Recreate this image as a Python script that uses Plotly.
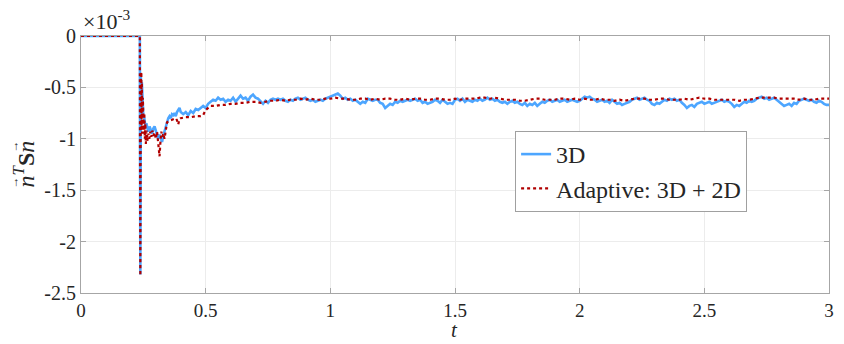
import numpy as np
import plotly.graph_objects as go

# values in units of 1e-3
blue_t_early = [0, 0.236, 0.237, 0.238, 0.239, 0.240, 0.242, 0.244, 0.246, 0.248, 0.250,
                0.254, 0.258, 0.262, 0.266, 0.270, 0.275, 0.280, 0.285, 0.290, 0.295,
                0.300, 0.305, 0.310, 0.315, 0.320, 0.325, 0.330, 0.335, 0.340, 0.345,
                0.350, 0.355, 0.360, 0.365, 0.370, 0.375, 0.380, 0.385, 0.390, 0.395,
                0.400, 0.410, 0.420, 0.430, 0.440, 0.450, 0.460, 0.470, 0.480, 0.490]
blue_v_early = [0, 0, -1.2, -2.32, -1.5, -0.40, -0.55, -0.45, -0.62, -0.70, -0.78,
                -0.80, -0.88, -0.85, -0.90, -0.93, -0.88, -0.92, -0.95, -0.90, -0.88,
                -0.92, -0.97, -1.00, -0.96, -0.99, -1.03, -0.97, -0.92, -0.88, -0.82,
                -0.80, -0.78, -0.80, -0.76, -0.77, -0.75, -0.78, -0.74, -0.72, -0.70,
                -0.74, -0.76, -0.74, -0.77, -0.73, -0.75, -0.71, -0.72, -0.70, -0.68]

red_t_early = [0, 0.236, 0.2365, 0.238, 0.239, 0.240, 0.241, 0.242, 0.243, 0.244, 0.245,
               0.246, 0.247, 0.248, 0.249, 0.250, 0.252, 0.254, 0.256, 0.258, 0.260,
               0.263, 0.266, 0.270, 0.274, 0.278, 0.282, 0.286, 0.290, 0.295, 0.300,
               0.305, 0.310, 0.315, 0.318, 0.322, 0.326, 0.330, 0.335, 0.340, 0.345,
               0.350, 0.360, 0.370, 0.380, 0.385, 0.390, 0.395, 0.400, 0.420, 0.440,
               0.460, 0.480, 0.490]
red_v_early = [0, 0, -1.0, -2.33, -1.2, -0.45, -0.75, -0.35, -0.90, -0.45, -0.95,
               -0.55, -0.85, -0.60, -0.95, -0.70, -0.95, -0.75, -1.00, -0.85, -1.05,
               -0.92, -1.02, -0.95, -1.00, -0.93, -0.98, -0.92, -0.97, -0.94, -1.00,
               -0.93, -1.05, -1.17, -1.05, -0.93, -0.98, -0.95, -1.00, -0.92, -0.84,
               -0.83, -0.82, -0.81, -0.80, -0.82, -0.86, -0.81, -0.80, -0.79, -0.79,
               -0.78, -0.78, -0.77]

# steady part, blue sampled every 0.01 from t = 0.50 to 3.00
blue_v_late = [
    -0.70, -0.66, -0.64, -0.62, -0.63, -0.60, -0.62, -0.61, -0.64, -0.62,
    -0.63, -0.60, -0.64, -0.61, -0.58, -0.61, -0.60, -0.63, -0.59, -0.57,
    -0.60, -0.61, -0.64, -0.66, -0.63, -0.65, -0.62, -0.61, -0.62, -0.61,
    -0.62, -0.61, -0.63, -0.64, -0.62, -0.63, -0.61, -0.60, -0.62, -0.61,
    -0.60, -0.62, -0.63, -0.62, -0.64, -0.63, -0.62, -0.63, -0.61, -0.60,
    -0.59, -0.58, -0.57, -0.56, -0.58, -0.61, -0.60, -0.62, -0.61, -0.63,
    -0.62, -0.64, -0.66, -0.64, -0.65, -0.61, -0.62, -0.63, -0.62, -0.62,
    -0.65, -0.66, -0.70, -0.68, -0.66, -0.67, -0.64, -0.65, -0.63, -0.64,
    -0.63, -0.62, -0.63, -0.62, -0.61, -0.63, -0.62, -0.65, -0.64, -0.66,
    -0.65, -0.64, -0.62, -0.63, -0.65, -0.62, -0.64, -0.66, -0.65, -0.66,
    -0.62, -0.61, -0.63, -0.61, -0.64, -0.62, -0.63, -0.64, -0.62, -0.63,
    -0.61, -0.63, -0.62, -0.60, -0.62, -0.61, -0.63, -0.62, -0.64, -0.65,
    -0.64, -0.66, -0.64, -0.63, -0.65, -0.64, -0.66, -0.67, -0.65, -0.68,
    -0.66, -0.67, -0.65, -0.68, -0.66, -0.64, -0.65, -0.63, -0.62, -0.64,
    -0.63, -0.62, -0.64, -0.63, -0.62, -0.64, -0.63, -0.62, -0.63, -0.64,
    -0.63, -0.61, -0.59, -0.60, -0.59, -0.61, -0.62, -0.64, -0.63, -0.62,
    -0.64, -0.63, -0.65, -0.62, -0.64, -0.66, -0.65, -0.67, -0.66, -0.65,
    -0.64, -0.62, -0.61, -0.60, -0.62, -0.61, -0.60, -0.62, -0.63, -0.66,
    -0.67, -0.65, -0.66, -0.64, -0.62, -0.63, -0.61, -0.62, -0.61, -0.63,
    -0.62, -0.65, -0.67, -0.70, -0.68, -0.67, -0.69, -0.66, -0.65, -0.64,
    -0.66, -0.65, -0.64, -0.66, -0.65, -0.64, -0.63, -0.62, -0.64, -0.63,
    -0.64, -0.66, -0.69, -0.67, -0.68, -0.66, -0.64, -0.65, -0.63, -0.64,
    -0.63, -0.61, -0.60, -0.59, -0.61, -0.60, -0.62, -0.61, -0.60, -0.62,
    -0.64, -0.66, -0.68, -0.67, -0.66, -0.68, -0.65, -0.66, -0.63, -0.62,
    -0.61, -0.62, -0.63, -0.62, -0.64, -0.65, -0.63, -0.64, -0.66, -0.67,
    -0.67]

# steady part, red sampled every 0.02 from t = 0.50 to 3.00
red_v_late = [
    -0.72, -0.68, -0.68, -0.67, -0.67, -0.66, -0.66, -0.65, -0.65, -0.64,
    -0.64, -0.65, -0.64, -0.63, -0.63, -0.62, -0.63, -0.62, -0.62, -0.61,
    -0.62, -0.61, -0.62, -0.62, -0.61, -0.61, -0.60, -0.61, -0.61, -0.62,
    -0.62, -0.61, -0.61, -0.62, -0.61, -0.62, -0.61, -0.61, -0.62, -0.62,
    -0.61, -0.62, -0.61, -0.61, -0.62, -0.62, -0.61, -0.61, -0.62, -0.62,
    -0.61, -0.62, -0.61, -0.61, -0.61, -0.60, -0.60, -0.61, -0.60, -0.61,
    -0.62, -0.62, -0.62, -0.63, -0.63, -0.62, -0.61, -0.61, -0.62, -0.62,
    -0.62, -0.61, -0.61, -0.62, -0.61, -0.62, -0.61, -0.62, -0.62, -0.61,
    -0.62, -0.62, -0.63, -0.62, -0.63, -0.62, -0.61, -0.61, -0.61, -0.62,
    -0.62, -0.61, -0.61, -0.62, -0.62, -0.62, -0.61, -0.62, -0.61, -0.60,
    -0.61, -0.61, -0.62, -0.62, -0.62, -0.62, -0.62, -0.63, -0.62, -0.62,
    -0.61, -0.60, -0.60, -0.60, -0.60, -0.61, -0.61, -0.61, -0.61, -0.62,
    -0.61, -0.62, -0.62, -0.61, -0.61, -0.61]

x_ticks = [0, 0.5, 1, 1.5, 2, 2.5, 3]
x_ticktext = ["0", "0.5", "1", "1.5", "2", "2.5", "3"]
y_ticks = [-2.5, -2, -1.5, -1, -0.5, 0]
y_ticktext = ["-2.5", "-2", "-1.5", "-1", "-0.5", "0"]

blue_t = blue_t_early + list(np.round(np.linspace(0.5, 3.0, len(blue_v_late)), 4))
blue_v = blue_v_early + blue_v_late
red_t = red_t_early + list(np.round(np.linspace(0.5, 3.0, len(red_v_late)), 4))
red_v = red_v_early + red_v_late

FONT = "Times New Roman"
AX = "#a6a6a6"
TXT = "#262626"

# plot-area geometry (pixels) used only to place the free texts
L, R, T, B, W, H = 81, 10, 36, 51, 844, 344
PW, PH = W - L - R, H - T - B
def px(xp):
    return (xp - L) / PW
def py(yp):
    return (H - B - yp) / PH

def f(size):
    return dict(family=FONT, size=size, color=TXT)

fig = go.Figure()
fig.add_trace(go.Scatter(x=blue_t, y=blue_v, mode="lines", name="3D",
                         line=dict(color="#4da6ff", width=2.6)))
fig.add_trace(go.Scatter(x=red_t, y=red_v, mode="lines", name="Adaptive: 3D + 2D",
                         line=dict(color="#b00000", width=2.2, dash="dot")))

fig.update_layout(
    width=W, height=H,
    margin=dict(l=L, r=R, t=T, b=B),
    paper_bgcolor="white", plot_bgcolor="white",
    font=f(20),
    showlegend=True,
    legend=dict(x=px(518), y=py(131), xanchor="left", yanchor="top",
                bgcolor="white", bordercolor="#a0a0a0", borderwidth=1,
                font=f(24), itemwidth=30, tracegroupgap=0),
    xaxis=dict(range=[0, 3], tickvals=x_ticks, ticktext=x_ticktext,
               tickfont=f(19),
               showgrid=True, gridcolor="#ececec", gridwidth=1,
               showline=True, linecolor=AX, linewidth=1, mirror="ticks",
               ticks="inside", ticklen=5, tickcolor=AX, zeroline=False),
    yaxis=dict(range=[-2.5, 0], tickvals=y_ticks, ticktext=y_ticktext,
               tickfont=f(20),
               showgrid=True, gridcolor="#ececec", gridwidth=1,
               showline=True, linecolor=AX, linewidth=1, mirror="ticks",
               ticks="inside", ticklen=5, tickcolor=AX, zeroline=False),
    annotations=[
        dict(text="×10<sup>-3</sup>", xref="paper", yref="paper", x=px(81), y=py(36),
             xanchor="left", yanchor="bottom", showarrow=False, font=f(22)),
        dict(text="<i>t</i>", xref="paper", yref="paper", x=px(457), y=py(330),
             xanchor="center", yanchor="middle", showarrow=False, font=f(21)),
        dict(text="<i>n</i><sup><i>T</i></sup><b>S</b><i>n</i>", xref="paper", yref="paper",
             x=px(24), y=py(164), xanchor="center", yanchor="middle", textangle=-90,
             showarrow=False, font=f(24)),
        dict(text="→", xref="paper", yref="paper", x=px(14), y=py(182),
             xanchor="center", yanchor="middle", textangle=-90,
             showarrow=False, font=f(12)),
        dict(text="→", xref="paper", yref="paper", x=px(14), y=py(146),
             xanchor="center", yanchor="middle", textangle=-90,
             showarrow=False, font=f(12)),
    ],
)

fig.write_html("out.html")
